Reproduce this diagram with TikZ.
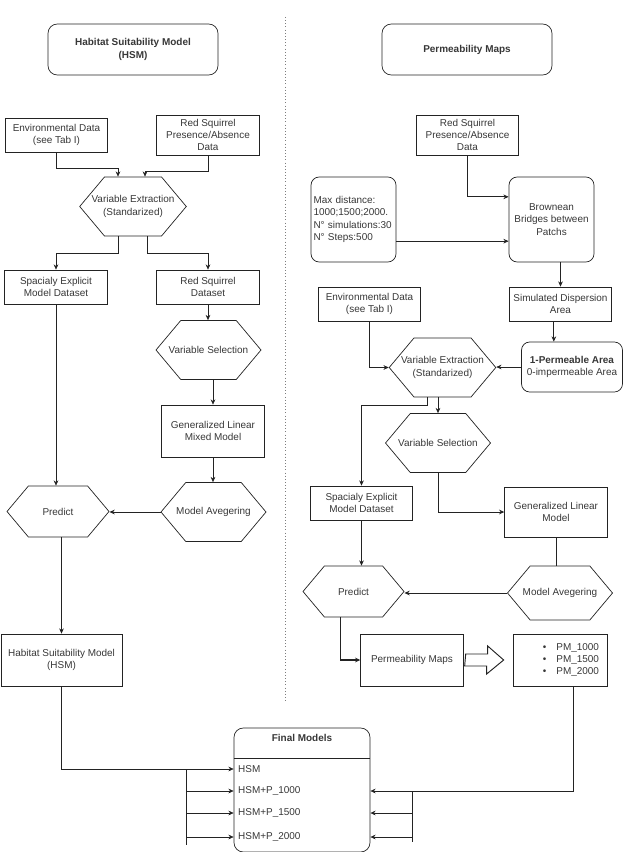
\documentclass[tikz,border=0pt]{standalone}
\usepackage{fontspec}
\setmainfont{Liberation Sans}
\usepackage{tikz}
\usetikzlibrary{arrows.meta,positioning,calc,shapes.symbols}
\definecolor{hsline}{RGB}{35,35,35}
\definecolor{hstext}{RGB}{55,55,55}
\definecolor{hsdots}{RGB}{125,125,125}

\begin{document}
\begin{tikzpicture}[
  x=0.03cm, y=-0.03cm,
  >={Stealth[length=4.5pt,width=4pt]},
  font=\fontsize{8.5}{10.5}\selectfont,
  every node/.style={text=hstext},
  headbox/.style={draw=hsline, line width=0.6pt, rounded corners=8pt, align=center,
                  font=\fontsize{8.5}{10.5}\selectfont\bfseries,
                  minimum width=5.1cm, minimum height=1.53cm},
  datbox/.style={draw=hsline, line width=0.6pt, align=center,
                 minimum width=3.08cm, minimum height=1.02cm},
  tallbox/.style={datbox, minimum height=1.56cm},
  softbox/.style={datbox, rounded corners=7pt},
  hexbox/.style={draw=hsline, line width=0.6pt, signal, signal to=east and west,
                 signal pointer angle=100, align=center, inner xsep=-11pt, inner ysep=1pt,
                 minimum width=3.15cm, minimum height=1.77cm},
  rowtxt/.style={anchor=west, inner sep=0pt},
  flow/.style={->, draw=hsline, line width=0.6pt},
  link/.style={draw=hsline, line width=0.6pt},
  fat/.style={draw=hsline, line width=0.8pt, fill=white},
  divider/.style={draw=hsdots, dotted, line width=0.7pt}
]
\useasboundingbox (0,0) rectangle (623,852);

% headers
\node[headbox] (hsmtitle) at (133,49.5) {Habitat Suitability Model\\(HSM)};
\node[headbox] (ptitle) at (467,49.5) {Permeability Maps};
\draw[divider] (285,17) -- (285,703);

% left column: habitat suitability
\node[datbox] (envl) at (56.5,135) {Environmental Data\\(see Tab I)};
\node[datbox] (rsl) at (208,135) {Red Squirrel\\Presence/Absence\\Data};
\node[hexbox] (vextl) at (133,206.5) {Variable Extraction\\(Standarized)};
\node[datbox] (sedl) at (56,287) {Spacialy Explicit\\Model Dataset};
\node[datbox] (rsdl) at (208,287) {Red Squirrel\\Dataset};
\node[hexbox] (vsell) at (208.5,350) {Variable Selection};
\node[tallbox] (glmm) at (213,431) {Generalized Linear\\Mixed Model};
\node[hexbox] (mavgl) at (213.5,512) {Model Avegering};
\node[hexbox, minimum width=3.06cm, minimum height=1.53cm] (predl) at (58,511.5) {Predict};
\node[tallbox, minimum width=3.63cm] (hsmbox) at (61.5,660) {Habitat Suitability Model\\(HSM)};

\draw[flow] (envl.south) -- ++(0,16) -| ([xshift=-.45cm]vextl.north);
\draw[flow] (rsl.south) -- ++(0,16) -| ([xshift=.36cm]vextl.north);
\draw[flow] ([xshift=-.45cm]vextl.south) -- ++(0,17) -| (sedl.north);
\draw[flow] ([xshift=.42cm]vextl.south) -- ++(0,17) -| (rsdl.north);
\draw[flow] (rsdl.south) -- (rsdl.south |- vsell.north);
\draw[flow] (glmm.north |- vsell.south) -- (glmm.north);
\draw[flow] (glmm.south) -- (glmm.south |- mavgl.north);
\draw[flow] (mavgl.west) -- (mavgl.west -| predl.east);
\draw[flow] (sedl.south) -- (sedl.south |- predl.north);
\draw[flow] (hsmbox.north |- predl.south) -- (hsmbox.north);

% right column: permeability
\node[datbox] (rsr) at (467.5,135) {Red Squirrel\\Presence/Absence\\Data};
\node[softbox, minimum width=2.55cm, minimum height=2.55cm, align=left, text width=2.4cm, inner sep=1pt] (maxd) at (353.5,219.5)
  {Max distance:\\1000;1500;2000.\\N° simulations:30\\N° Steps:500};
\node[softbox, minimum width=2.55cm, minimum height=2.55cm] (brown) at (551.5,219.5) {Brownean\\Bridges between\\Patchs};
\node[datbox] (simd) at (560.5,304) {Simulated Dispersion\\Area};
\node[datbox] (envr) at (369.5,304) {Environmental Data\\(see Tab I)};
\node[softbox, minimum width=3.03cm, minimum height=1.5cm] (perm01) at (572,367) {\textbf{1-Permeable Area}\\0-impermeable Area};
\node[hexbox] (vextr) at (442.5,367.5) {Variable Extraction\\(Standarized)};
\node[hexbox] (vselr) at (438,443) {Variable Selection};
\node[datbox] (sedr) at (361.5,503) {Spacialy Explicit\\Model Dataset};
\node[tallbox, minimum height=1.5cm] (glm) at (556,512) {Generalized Linear\\Model};
\node[hexbox, minimum width=3.03cm, minimum height=1.53cm] (predr) at (353.5,591.5) {Predict};
\node[hexbox, minimum height=1.62cm] (mavgr) at (560,593) {Model Avegering};
\node[tallbox] (pmaps) at (412,660) {Permeability Maps};
\node[tallbox, minimum width=2.82cm, text width=2.34cm, inner xsep=.24cm, align=right] (pmlist) at (560,660)
  {\textbullet\hspace{.3cm}PM\_1000\\\textbullet\hspace{.3cm}PM\_1500\\\textbullet\hspace{.3cm}PM\_2000};

\draw[flow] (rsr.south) |- ([yshift=.68cm]brown.west);
\draw[flow] ([yshift=-.65cm]maxd.east) -- ([yshift=-.65cm]brown.west);
\draw[flow] (simd.north |- brown.south) -- (simd.north);
\draw[flow] ([xshift=-.2cm]simd.south) -- ([xshift=-.2cm]simd.south |- perm01.north);
\draw[flow] (envr.south) |- (vextr.west);
\draw[flow] (perm01.west) -- (perm01.west -| vextr.east);
\draw[flow] ([xshift=-.44cm]vextr.south) -- ++(0,8) -| (sedr.north);
\draw[flow] (vextr.south -| vselr.north) -- (vselr.north);
\draw[flow] (vselr.south) |- (glm.west);
\draw[link] (glm.south) -- (glm.south |- mavgr.north);
\draw[flow] (mavgr.west) -- (mavgr.west -| predr.east);
\draw[flow] (sedr.south) -- (sedr.south |- predr.north);
\draw[flow, line width=1pt] ([xshift=-.4cm]predr.south) |- (pmaps.west);
\draw[fat] ($(pmaps.east)+(2,-6)$) -- ++(22,0) -- ++(0,-8) -- ($(pmlist.west)+(-9,0)$)
  -- ++(-17,14) -- ++(0,-8) -- ++(-22,0) -- cycle;

% final models
\node[draw=hsline, line width=0.6pt, rounded corners=8pt, minimum width=4.08cm, minimum height=3.72cm] (fm) at (302,790) {};
\node[font=\fontsize{8.5}{10.5}\selectfont\bfseries] (fmtitle) at (302,738) {Final Models};
\coordinate (fmsep) at (302,758);
\draw[link] (fm.west |- fmsep) -- (fm.east |- fmsep);
\node[rowtxt] (rhsm) at (238,769) {HSM};
\node[rowtxt] (r1000) at (238,791) {HSM+P\_1000};
\node[rowtxt] (r1500) at (238,813) {HSM+P\_1500};
\node[rowtxt] (r2000) at (238,837) {HSM+P\_2000};

\coordinate (lj) at (186,769);
\coordinate (ljend) at (186,845);
\coordinate (rj) at (412,791);
\coordinate (rjend) at (412,842);
\draw[flow] (hsmbox.south) |- (rhsm.west -| fm.west);
\draw[link] (lj) -- (ljend);
\foreach \r in {r1000,r1500,r2000}
  \draw[flow] (lj |- \r.west) -- (\r.west -| fm.west);
\draw[flow] ([xshift=.39cm]pmlist.south) |- (r1000.west -| fm.east);
\draw[link] (rj) -- (rjend);
\foreach \r in {r1500,r2000}
  \draw[flow] (rj |- \r.west) -- (\r.west -| fm.east);
\end{tikzpicture}
\end{document}
